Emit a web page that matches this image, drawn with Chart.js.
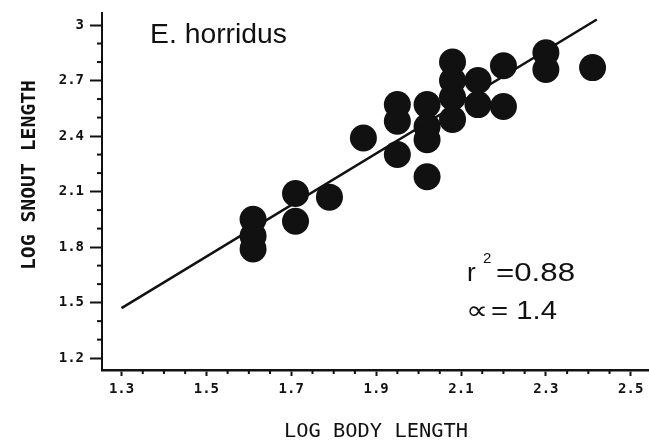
<!DOCTYPE html>
<html><head><meta charset="utf-8">
<script src="https://cdn.jsdelivr.net/npm/chart.js@4"></script>
<style>html,body{margin:0;padding:0;background:#fff}#wrap{width:649px;height:442px;position:relative}</style>
</head><body><div id="wrap"><canvas id="c"></canvas></div>
<script>
// Data
const bodyLength  = [1.61,1.61,1.61,1.71,1.71,1.79,1.87,1.95,1.95,1.95,2.02,2.02,2.02,2.02,2.08,2.08,2.08,2.08,2.14,2.14,2.20,2.20,2.30,2.30,2.41];
const snoutLength = [1.95,1.86,1.79,2.09,1.94,2.07,2.39,2.57,2.48,2.30,2.57,2.45,2.38,2.18,2.80,2.70,2.61,2.49,2.70,2.57,2.78,2.56,2.85,2.76,2.77];
const fitX = [1.30, 2.42];
const fitY = [1.47, 3.03];
const xTickLabels = ['1.3','1.5','1.7','1.9','2.1','2.3','2.5'];
const yTickLabels = ['1.2','1.5','1.8','2.1','2.4','2.7','3'];
const speciesLabel = 'E. horridus';
const r2Value = '0.88';
const alphaValue = '1.4';
const xTitle = 'LOG BODY LENGTH';
const yTitle = 'LOG SNOUT LENGTH';

const INK = '#111';
function findLabel(list, v){ const l = list.find(s => Math.abs(parseFloat(s) - v) < 1e-6); return l === undefined ? null : l; }

function drawScaled(ctx, text, x, y, font, targetWidth, align){
  ctx.save();
  ctx.font = font;
  const w = ctx.measureText(text).width;
  const sx = targetWidth ? targetWidth / w : 1;
  ctx.translate(x, y);
  ctx.scale(sx, 1);
  ctx.textAlign = align || 'left';
  ctx.textBaseline = 'alphabetic';
  ctx.fillStyle = INK;
  ctx.fillText(text, 0, 0);
  ctx.restore();
}

const decor = {
  id: 'decor',
  afterDraw(chart){
    const ctx = chart.ctx;
    const xs = chart.scales.x, ys = chart.scales.y;
    const ca = chart.chartArea;
    // minor ticks
    ctx.save();
    ctx.strokeStyle = INK; ctx.lineWidth = 2;
    xs.ticks.forEach(t => {
      if (findLabel(xTickLabels, t.value) !== null) return;
      const px = xs.getPixelForValue(t.value);
      ctx.beginPath(); ctx.moveTo(px, ca.bottom); ctx.lineTo(px, ca.bottom + 4); ctx.stroke();
    });
    ys.ticks.forEach(t => {
      if (findLabel(yTickLabels, t.value) !== null) return;
      const py = ys.getPixelForValue(t.value);
      ctx.beginPath(); ctx.moveTo(ca.left - 5, py); ctx.lineTo(ca.left, py); ctx.stroke();
    });
    ctx.restore();

    const sans = '"Liberation Sans", Arial, "DejaVu Sans", sans-serif';
    const mono = '"DejaVu Sans Mono", "Liberation Mono", monospace';
    // species label
    drawScaled(ctx, speciesLabel, 150, 43, '28px ' + sans, 137);
    // r^2
    drawScaled(ctx, 'r', 467, 281, '26px ' + sans, 0);
    drawScaled(ctx, '2', 483, 263, '15px ' + sans, 0);
    drawScaled(ctx, '=' + r2Value, 496, 281, '26px ' + sans, 79);
    // alpha
    drawScaled(ctx, '\u221D', 466, 319, '26px "DejaVu Sans", ' + sans, 22);
    drawScaled(ctx, '= ' + alphaValue, 491, 319, '26px ' + sans, 66);
    // axis titles
    drawScaled(ctx, xTitle, 376, 437, '20px ' + mono, 184, 'center');
    ctx.save();
    ctx.translate(35, 175);
    ctx.rotate(-Math.PI/2);
    drawScaled(ctx, yTitle, 0, 0, 'bold 20px ' + mono, 190, 'center');
    ctx.restore();
  }
};

const points = bodyLength.map((x, i) => ({x, y: snoutLength[i]}));
const fitLine = fitX.map((x, i) => ({x, y: fitY[i]}));
const tickFont = {family: '"DejaVu Sans Mono", monospace', size: 14, weight: 'bold'};

new Chart(document.getElementById('c'), {
  type: 'scatter',
  data: {
    datasets: [
      {data: fitLine, showLine: true, borderColor: INK, borderWidth: 2.5, pointRadius: 0, pointHoverRadius: 0, fill: false},
      {data: points, backgroundColor: INK, borderWidth: 0, pointRadius: 13.5, pointHoverRadius: 13.5}
    ]
  },
  options: {
    responsive: true, maintainAspectRatio: false, animation: false,
    layout: {autoPadding: false, padding: {top: 13, right: 0, bottom: 0, left: 0}},
    plugins: {legend: {display: false}, tooltip: {enabled: false}},
    events: [],
    scales: {
      x: {
        type: 'linear', min: 1.254, max: 2.543,
        afterFit: s => { s.height = 72; s.paddingLeft = 0; s.paddingRight = 0; },
        border: {display: true, color: INK, width: 2.5},
        grid: {display: true, drawOnChartArea: false, drawTicks: true, tickLength: 6, tickWidth: 2,
               tickColor: c => (c.tick && findLabel(xTickLabels, c.tick.value) !== null) ? INK : 'rgba(0,0,0,0)'},
        ticks: {stepSize: 0.05, includeBounds: false, autoSkip: false, maxRotation: 0, minRotation: 0,
                padding: 5, color: INK, font: tickFont,
                callback: v => { const l = findLabel(xTickLabels, v); return l === null ? '' : l; }}
      },
      y: {
        type: 'linear', min: 1.136, max: 3.065,
        afterFit: s => { s.width = 102; s.paddingTop = 0; s.paddingBottom = 0; },
        border: {display: true, color: INK, width: 2},
        grid: {display: true, drawOnChartArea: false, drawTicks: true, tickLength: 12, tickWidth: 2,
               tickColor: c => (c.tick && findLabel(yTickLabels, c.tick.value) !== null) ? INK : 'rgba(0,0,0,0)'},
        ticks: {stepSize: 0.1, includeBounds: false, autoSkip: false,
                padding: 6, color: INK, font: tickFont,
                callback: v => { const l = findLabel(yTickLabels, v); return l === null ? '' : l; }}
      }
    }
  },
  plugins: [decor]
});
</script>
</body></html>
